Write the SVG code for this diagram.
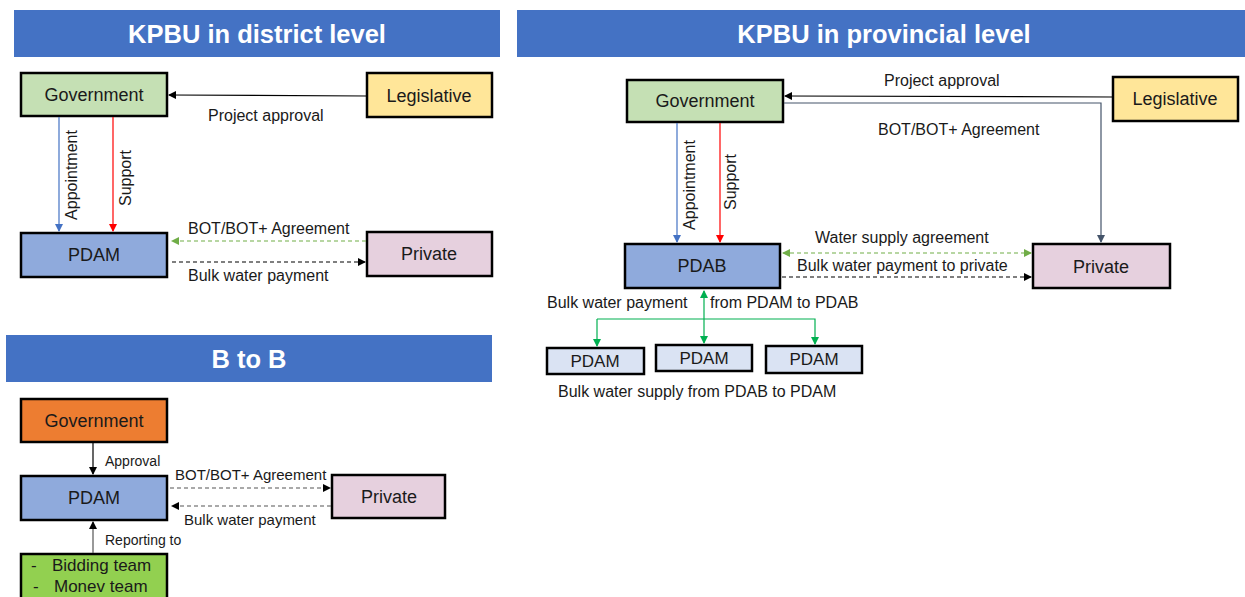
<svg xmlns="http://www.w3.org/2000/svg" width="1245" height="597" viewBox="0 0 1245 597">
  <style>
    text { font-family: "Liberation Sans", Arial, sans-serif; fill: #1a1a1a; }
    .hdr { fill: #4472C4; }
    .hdr-t { font-size: 25.5px; font-weight: bold; fill: #ffffff; text-anchor: middle; }
    .box { stroke: #000; stroke-width: 2.5; }
    .nt { font-size: 18px; text-anchor: middle; }
    .nts { font-size: 17px; text-anchor: middle; }
    .lbl { font-size: 16px; }
    .lbl-s { font-size: 15px; }
    .lbl-xs { font-size: 14px; }
    .team { font-size: 17px; }
    .c { fill: none; stroke-width: 1.2; }
    .dash { stroke-dasharray: 4 3; }
  </style>
  <defs>
    <marker id="ah-black" markerWidth="8" markerHeight="8" refX="7" refY="4" orient="auto" markerUnits="userSpaceOnUse">
      <path d="M0,0 L8,4 L0,8 Z" fill="#000"/>
    </marker>
    <marker id="ah-blue" markerWidth="8" markerHeight="8" refX="7" refY="4" orient="auto" markerUnits="userSpaceOnUse">
      <path d="M0,0 L8,4 L0,8 Z" fill="#4472C4"/>
    </marker>
    <marker id="ah-red" markerWidth="8" markerHeight="8" refX="7" refY="4" orient="auto" markerUnits="userSpaceOnUse">
      <path d="M0,0 L8,4 L0,8 Z" fill="#FF0000"/>
    </marker>
    <marker id="ah-lime" markerWidth="8" markerHeight="8" refX="7" refY="4" orient="auto-start-reverse" markerUnits="userSpaceOnUse">
      <path d="M0,0 L8,4 L0,8 Z" fill="#70AD47"/>
    </marker>
    <marker id="ah-slate" markerWidth="8" markerHeight="8" refX="7" refY="4" orient="auto" markerUnits="userSpaceOnUse">
      <path d="M0,0 L8,4 L0,8 Z" fill="#44546A"/>
    </marker>
    <marker id="ah-green" markerWidth="8" markerHeight="8" refX="7" refY="4" orient="auto" markerUnits="userSpaceOnUse">
      <path d="M0,0 L8,4 L0,8 Z" fill="#00B050"/>
    </marker>
  </defs>

  <rect width="1245" height="597" fill="#ffffff"/>

  <!-- section headers -->
  <g id="header-district">
    <rect class="hdr" x="14" y="10" width="486" height="47"/>
    <text class="hdr-t" x="257" y="43">KPBU in district level</text>
  </g>
  <g id="header-provincial">
    <rect class="hdr" x="517" y="10" width="728" height="47"/>
    <text class="hdr-t" x="884" y="43">KPBU in provincial level</text>
  </g>
  <g id="header-btob">
    <rect class="hdr" x="6" y="335" width="486" height="47"/>
    <text class="hdr-t" x="249" y="368">B to B</text>
  </g>

  <!-- district level nodes -->
  <g id="d-government">
    <rect class="box" x="21" y="73" width="146" height="43" fill="#C5E0B4"/>
    <text class="nt" x="94" y="101">Government</text>
  </g>
  <g id="d-legislative">
    <rect class="box" x="367" y="73" width="125" height="44" fill="#FFE699"/>
    <text class="nt" x="429" y="102">Legislative</text>
  </g>
  <g id="d-pdam">
    <rect class="box" x="21" y="233" width="146" height="44" fill="#8FAADC"/>
    <text class="nt" x="94" y="261">PDAM</text>
  </g>
  <g id="d-private">
    <rect class="box" x="367" y="232" width="125" height="44" fill="#E6D0DE"/>
    <text class="nt" x="429" y="260">Private</text>
  </g>

  <!-- provincial level nodes -->
  <g id="p-government">
    <rect class="box" x="627" y="80" width="156" height="42" fill="#C5E0B4"/>
    <text class="nt" x="705" y="107">Government</text>
  </g>
  <g id="p-legislative">
    <rect class="box" x="1113" y="77" width="125" height="44" fill="#FFE699"/>
    <text class="nt" x="1175" y="105">Legislative</text>
  </g>
  <g id="p-pdab">
    <rect class="box" x="625" y="244" width="155" height="44" fill="#8FAADC"/>
    <text class="nt" x="702" y="272">PDAB</text>
  </g>
  <g id="p-private">
    <rect class="box" x="1033" y="244" width="137" height="44" fill="#E6D0DE"/>
    <text class="nt" x="1101" y="273">Private</text>
  </g>
  <g id="p-pdam-1">
    <rect class="box" x="547" y="348" width="97" height="26" fill="#DAE3F3"/>
    <text class="nts" x="595" y="367">PDAM</text>
  </g>
  <g id="p-pdam-2">
    <rect class="box" x="656" y="345" width="96" height="26" fill="#DAE3F3"/>
    <text class="nts" x="704" y="364">PDAM</text>
  </g>
  <g id="p-pdam-3">
    <rect class="box" x="766" y="346" width="96" height="27" fill="#DAE3F3"/>
    <text class="nts" x="814" y="365">PDAM</text>
  </g>

  <!-- B to B nodes -->
  <g id="b-government">
    <rect class="box" x="21" y="399" width="146" height="43" fill="#ED7D31"/>
    <text class="nt" x="94" y="427">Government</text>
  </g>
  <g id="b-pdam">
    <rect class="box" x="21" y="476" width="146" height="44" fill="#8FAADC"/>
    <text class="nt" x="94" y="504">PDAM</text>
  </g>
  <g id="b-private">
    <rect class="box" x="332" y="475" width="113" height="43" fill="#E6D0DE"/>
    <text class="nt" x="389" y="503">Private</text>
  </g>
  <g id="b-teams">
    <rect class="box" x="21" y="554" width="146" height="50" fill="#92D050"/>
    <text class="team" x="31" y="571">-</text>
    <text class="team" x="52" y="571">Bidding team</text>
    <text class="team" x="33" y="592">-</text>
    <text class="team" x="54" y="592">Monev team</text>
  </g>

  <!-- connectors -->
  <g id="connectors">
    <!-- district level -->
    <line class="c" x1="367" y1="96" x2="169" y2="95" stroke="#000" marker-end="url(#ah-black)"/>
    <line class="c" x1="59" y1="117" x2="59" y2="231" stroke="#4472C4" marker-end="url(#ah-blue)"/>
    <line class="c" x1="113" y1="117" x2="113" y2="231" stroke="#FF0000" marker-end="url(#ah-red)"/>
    <line class="c dash" x1="366" y1="241" x2="172" y2="241" stroke="#70AD47" marker-end="url(#ah-lime)"/>
    <line class="c dash" x1="172" y1="262" x2="365" y2="262" stroke="#000" marker-end="url(#ah-black)"/>

    <!-- provincial level -->
    <line class="c" x1="1112" y1="97" x2="785" y2="96" stroke="#000" marker-end="url(#ah-black)"/>
    <polyline class="c" points="784,103 1101,103 1101,242" stroke="#44546A" marker-end="url(#ah-slate)"/>
    <line class="c" x1="677" y1="123" x2="677" y2="242" stroke="#4472C4" marker-end="url(#ah-blue)"/>
    <line class="c" x1="720" y1="123" x2="720" y2="242" stroke="#FF0000" marker-end="url(#ah-red)"/>
    <line class="c dash" x1="783" y1="253" x2="1031" y2="253" stroke="#70AD47" marker-start="url(#ah-lime)" marker-end="url(#ah-lime)"/>
    <line class="c dash" x1="782" y1="277" x2="1031" y2="277" stroke="#000" marker-end="url(#ah-black)"/>
    <!-- PDAM <-> PDAB distribution bus -->
    <line class="c" x1="704" y1="319" x2="704" y2="291" stroke="#00B050" marker-end="url(#ah-green)"/>
    <polyline class="c" points="597,319 815,319 815,344" stroke="#00B050" marker-end="url(#ah-green)"/>
    <line class="c" x1="597" y1="319" x2="597" y2="346" stroke="#00B050" marker-end="url(#ah-green)"/>
    <line class="c" x1="704" y1="319" x2="704" y2="343" stroke="#00B050" marker-end="url(#ah-green)"/>

    <!-- B to B -->
    <line class="c" x1="93" y1="443" x2="93" y2="474" stroke="#000" marker-end="url(#ah-black)"/>
    <line class="c dash" x1="170" y1="488" x2="330" y2="488" stroke="#555" marker-end="url(#ah-black)"/>
    <line class="c dash" x1="331" y1="506" x2="172" y2="506" stroke="#555" marker-end="url(#ah-black)"/>
    <line class="c" x1="93" y1="553" x2="93" y2="522" stroke="#555" marker-end="url(#ah-black)"/>
  </g>

  <!-- connector labels -->
  <g id="labels">
    <text class="lbl" x="208" y="121">Project approval</text>
    <text class="lbl" transform="translate(77,175) rotate(-90)" text-anchor="middle">Appointment</text>
    <text class="lbl" transform="translate(131,178) rotate(-90)" text-anchor="middle">Support</text>
    <text class="lbl" x="188" y="234">BOT/BOT+ Agreement</text>
    <text class="lbl" x="188" y="281">Bulk water payment</text>

    <text class="lbl" x="884" y="86">Project approval</text>
    <text class="lbl" x="878" y="135">BOT/BOT+ Agreement</text>
    <text class="lbl" transform="translate(695,185) rotate(-90)" text-anchor="middle">Appointment</text>
    <text class="lbl" transform="translate(736,182) rotate(-90)" text-anchor="middle">Support</text>
    <text class="lbl" x="815" y="243">Water supply agreement</text>
    <text class="lbl" x="797" y="271">Bulk water payment to private</text>
    <text class="lbl" x="547" y="308">Bulk water payment</text>
    <text class="lbl" x="710" y="308">from PDAM to PDAB</text>
    <text class="lbl" x="558" y="397">Bulk water supply from PDAB to PDAM</text>

    <text class="lbl-xs" x="105" y="466">Approval</text>
    <text class="lbl-s" x="175" y="480">BOT/BOT+ Agreement</text>
    <text class="lbl-s" x="184" y="525">Bulk water payment</text>
    <text class="lbl-xs" x="105" y="545">Reporting to</text>
  </g>
</svg>
